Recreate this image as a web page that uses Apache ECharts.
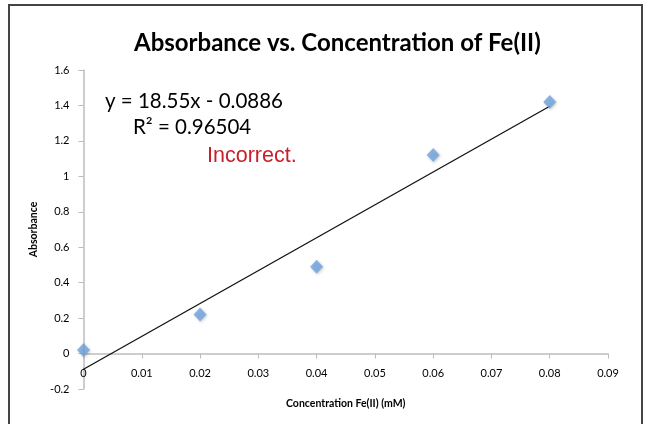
<!DOCTYPE html>
<html>
<head>
<meta charset="utf-8">
<script src="https://cdn.jsdelivr.net/npm/echarts@6/dist/echarts.min.js"></script>
<style>
  html, body { margin: 0; padding: 0; background: #fff; }
  #chart { width: 650px; height: 424px; }
</style>
</head>
<body>
<div id="chart"></div>
<script>
// 数据
var concentration = [0, 0.02, 0.04, 0.06, 0.08];
var absorbance = [0.02, 0.22, 0.49, 1.12, 1.42];
// 趋势线 y = 18.55x - 0.0886 的两个端点
var trendX = [0, 0.08];
var trendY = [-0.0886, 1.3954];
var xTicks = [0, 0.01, 0.02, 0.03, 0.04, 0.05, 0.06, 0.07, 0.08, 0.09];
var yTicks = [-0.2, 0, 0.2, 0.4, 0.6, 0.8, 1, 1.2, 1.4, 1.6];

var myChart = echarts.init(document.getElementById('chart'));

var gridTop = 70, gridBottom = 35;
// x轴画在 y=0 处（距底部的像素距离）
var zeroOffset = (0 - yTicks[0]) / (yTicks[yTicks.length - 1] - yTicks[0]) * (424 - gridTop - gridBottom);

var option = {
  animation: false,
  title: {
    text: 'Absorbance vs. Concentration of Fe(II)',
    left: 129,
    top: 26,
    textStyle: { fontFamily: 'Lato', fontWeight: 'bold', fontSize: 24, color: '#000' }
  },
  grid: { left: 83.5, right: 42, top: gridTop, bottom: gridBottom, outerBoundsMode: 'none', containLabel: false },
  xAxis: {
    type: 'value',
    min: xTicks[0],
    max: xTicks[xTicks.length - 1],
    interval: 0.01,
    name: 'Concentration Fe(II) (mM)',
    nameLocation: 'middle',
    nameGap: 45,
    nameTextStyle: { fontFamily: 'Lato', fontWeight: 'bold', fontSize: 10.5, color: '#000' },
    offset: -zeroOffset,
    axisLine: { onZero: false, lineStyle: { color: '#bdbdbd', width: 1.5 } },
    axisTick: { show: true, length: 5, lineStyle: { color: '#bdbdbd' } },
    axisLabel: { margin: 14, fontFamily: 'Lato', fontSize: 11, color: '#000',
      formatter: function (v) { return String(+v.toFixed(2)); } },
    splitLine: { show: false }
  },
  yAxis: {
    type: 'value',
    min: yTicks[0],
    max: yTicks[yTicks.length - 1],
    interval: 0.2,
    name: 'Absorbance',
    nameLocation: 'middle',
    nameGap: 43,
    nameTextStyle: { fontFamily: 'Lato', fontWeight: 'bold', fontSize: 10.5, color: '#000' },
    axisLine: { show: true, onZero: false, lineStyle: { color: '#bdbdbd', width: 1.5 } },
    axisTick: { show: true, length: 5, lineStyle: { color: '#bdbdbd' } },
    axisLabel: { margin: 14, fontFamily: 'Lato', fontSize: 11, color: '#000',
      formatter: function (v) { return String(+v.toFixed(1)); } },
    splitLine: { show: false }
  },
  series: [
    {
      name: 'Trendline',
      type: 'line',
      data: trendX.map(function (x, i) { return [x, trendY[i]]; }),
      symbol: 'none',
      lineStyle: { color: '#111', width: 1.3 },
      z: 2
    },
    {
      name: 'Absorbance',
      type: 'scatter',
      data: concentration.map(function (x, i) { return [x, absorbance[i]]; }),
      symbol: 'diamond',
      symbolSize: [13, 14],
      itemStyle: {
        color: '#6fa3dd',
        shadowBlur: 3,
        shadowColor: 'rgba(0,0,0,0.25)',
        shadowOffsetX: 1,
        shadowOffsetY: 1
      },
      z: 3
    }
  ],
  graphic: [
    {
      type: 'rect',
      shape: { x: 9, y: 5, width: 633, height: 440 },
      style: { fill: 'none', stroke: '#444', lineWidth: 2 },
      silent: true
    },
    {
      type: 'text',
      left: 105, top: 91,
      style: { text: 'y = 18.55x - 0.0886', fontFamily: 'Lato', fontSize: 20.5, fill: '#000' }
    },
    {
      type: 'text',
      left: 133, top: 117,
      style: { text: 'R² = 0.96504', fontFamily: 'Lato', fontSize: 20.5, fill: '#000' }
    },
    {
      type: 'text',
      left: 207, top: 145,
      style: { text: 'Incorrect.', fontFamily: 'Liberation Sans', fontSize: 21.5, fill: '#c8202a' }
    }
  ]
};

myChart.setOption(option);
</script>
</body>
</html>
